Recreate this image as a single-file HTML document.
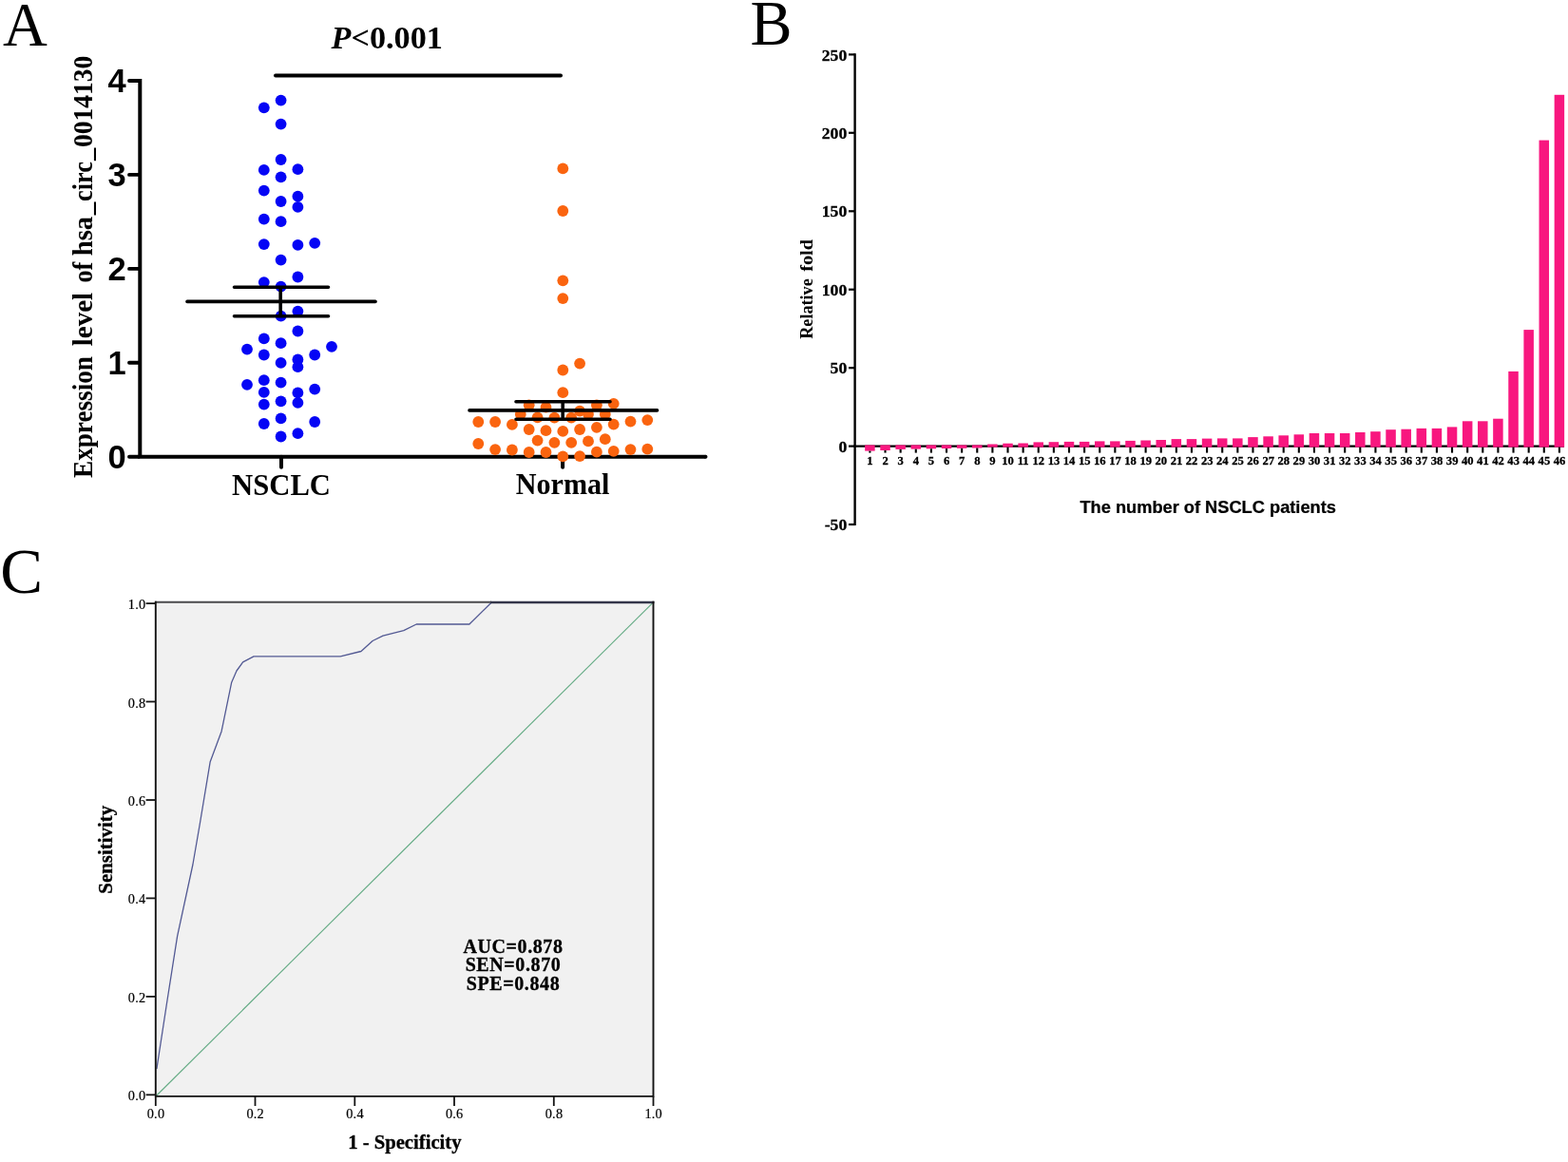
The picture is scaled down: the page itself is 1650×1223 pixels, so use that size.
<!DOCTYPE html>
<html lang="en">
<head>
<meta charset="utf-8">
<title>hsa_circ_0014130 in NSCLC</title>
<style>
html,body{margin:0;padding:0;background:#fff;}
body{width:1650px;height:1223px;overflow:hidden;position:relative;}
svg{position:absolute;left:0;top:0;display:block;}
text{font-family:"Liberation Serif","Times New Roman",serif;fill:#000;}
.sb{font-family:"Liberation Serif","Times New Roman",serif;font-weight:bold;}
.ab{font-family:"Liberation Sans",Arial,sans-serif;font-weight:bold;}
</style>
</head>
<body>
<svg width="1650" height="1223" viewBox="0 0 1650 1223">
<rect x="0" y="0" width="1650" height="1223" fill="#ffffff"/>

<g id="panelA">
<text transform="translate(3.07,48.10) scale(0.9747,1)" font-size="66.5">A</text>
<text class="sb" transform="translate(97.00,0) rotate(-90)" font-size="29"><tspan x="-502.96" textLength="127.87" lengthAdjust="spacingAndGlyphs">Expression</tspan> <tspan x="-364.27" textLength="56.46" lengthAdjust="spacingAndGlyphs">level</tspan> <tspan x="-297.60" textLength="21.84" lengthAdjust="spacingAndGlyphs">of</tspan> <tspan x="-269.31" textLength="41.45" lengthAdjust="spacingAndGlyphs">hsa</tspan><tspan x="-226.29" textLength="13.58" lengthAdjust="spacingAndGlyphs">_</tspan><tspan x="-211.89" textLength="41.84" lengthAdjust="spacingAndGlyphs">circ</tspan><tspan x="-168.99" textLength="13.28" lengthAdjust="spacingAndGlyphs">_</tspan><tspan x="-154.95" textLength="96.19" lengthAdjust="spacingAndGlyphs">0014130</tspan></text>
<path d="M147.3 82.99000000000001 V480.75 M145.3 480.75 H742.5" stroke="#000" stroke-width="4" fill="none" stroke-linecap="butt"/>
<path d="M742.5 480.75 h0.01" stroke="#000" stroke-width="4" stroke-linecap="round"/>
<path d="M136.0 480.8 H145.8" stroke="#000" stroke-width="3.9" stroke-linecap="round"/>
<text class="ab" x="132.8" y="493.1" font-size="34.5" text-anchor="end">0</text>
<path d="M136.0 381.8 H145.8" stroke="#000" stroke-width="3.9" stroke-linecap="round"/>
<text class="ab" x="132.8" y="394.1" font-size="34.5" text-anchor="end">1</text>
<path d="M136.0 282.9 H145.8" stroke="#000" stroke-width="3.9" stroke-linecap="round"/>
<text class="ab" x="132.8" y="295.2" font-size="34.5" text-anchor="end">2</text>
<path d="M136.0 183.9 H145.8" stroke="#000" stroke-width="3.9" stroke-linecap="round"/>
<text class="ab" x="132.8" y="196.2" font-size="34.5" text-anchor="end">3</text>
<path d="M136.0 85.0 H145.8" stroke="#000" stroke-width="3.9" stroke-linecap="round"/>
<text class="ab" x="132.8" y="97.3" font-size="34.5" text-anchor="end">4</text>
<path d="M296.0 480.75 V491.7" stroke="#000" stroke-width="4" stroke-linecap="round"/>
<path d="M592.1 480.75 V491.7" stroke="#000" stroke-width="4" stroke-linecap="round"/>
<text class="sb" transform="translate(244.02,520.60) scale(0.9805,1)" font-size="31.3">NSCLC</text>
<text class="sb" transform="translate(542.73,520.40) scale(0.9632,1)" font-size="31.3">Normal</text>
<path d="M290 79.4 H590" stroke="#000" stroke-width="4" stroke-linecap="round"/>
<text class="sb" x="407.2" y="50.8" font-size="34.2" text-anchor="middle"><tspan font-style="italic">P</tspan>&lt;0.001</text>
<g fill="#0505f5">
<circle cx="295.6" cy="105.6" r="5.9"/>
<circle cx="277.8" cy="113.3" r="5.9"/>
<circle cx="295.6" cy="130.6" r="5.9"/>
<circle cx="295.6" cy="168.0" r="5.9"/>
<circle cx="277.8" cy="178.9" r="5.9"/>
<circle cx="313.4" cy="178.2" r="5.9"/>
<circle cx="295.6" cy="186.3" r="5.9"/>
<circle cx="277.8" cy="200.6" r="5.9"/>
<circle cx="313.4" cy="206.7" r="5.9"/>
<circle cx="295.6" cy="212.0" r="5.9"/>
<circle cx="313.4" cy="217.9" r="5.9"/>
<circle cx="277.8" cy="230.6" r="5.9"/>
<circle cx="295.6" cy="233.2" r="5.9"/>
<circle cx="277.8" cy="257.1" r="5.9"/>
<circle cx="313.4" cy="257.9" r="5.9"/>
<circle cx="331.2" cy="255.8" r="5.9"/>
<circle cx="295.6" cy="273.6" r="5.9"/>
<circle cx="313.4" cy="291.5" r="5.9"/>
<circle cx="277.8" cy="297.1" r="5.9"/>
<circle cx="295.6" cy="301.6" r="5.9"/>
<circle cx="313.4" cy="327.6" r="5.9"/>
<circle cx="295.6" cy="332.7" r="5.9"/>
<circle cx="313.4" cy="348.5" r="5.9"/>
<circle cx="277.8" cy="356.4" r="5.9"/>
<circle cx="295.6" cy="361.2" r="5.9"/>
<circle cx="260.0" cy="367.6" r="5.9"/>
<circle cx="349.0" cy="364.8" r="5.9"/>
<circle cx="277.8" cy="373.5" r="5.9"/>
<circle cx="331.2" cy="373.5" r="5.9"/>
<circle cx="295.6" cy="381.9" r="5.9"/>
<circle cx="313.4" cy="378.5" r="5.9"/>
<circle cx="313.4" cy="386.2" r="5.9"/>
<circle cx="260.0" cy="404.8" r="5.9"/>
<circle cx="277.8" cy="400.2" r="5.9"/>
<circle cx="295.6" cy="402.7" r="5.9"/>
<circle cx="331.2" cy="409.6" r="5.9"/>
<circle cx="277.8" cy="412.9" r="5.9"/>
<circle cx="313.4" cy="413.4" r="5.9"/>
<circle cx="277.8" cy="425.6" r="5.9"/>
<circle cx="295.6" cy="422.3" r="5.9"/>
<circle cx="313.4" cy="423.9" r="5.9"/>
<circle cx="295.6" cy="440.4" r="5.9"/>
<circle cx="277.8" cy="446.0" r="5.9"/>
<circle cx="331.2" cy="444.0" r="5.9"/>
<circle cx="295.6" cy="459.5" r="5.9"/>
<circle cx="313.4" cy="456.2" r="5.9"/>
</g>
<g fill="#fa640f">
<circle cx="592.3" cy="177.4" r="5.9"/>
<circle cx="592.3" cy="222.0" r="5.9"/>
<circle cx="592.3" cy="295.3" r="5.9"/>
<circle cx="592.3" cy="314.1" r="5.9"/>
<circle cx="503.3" cy="467.0" r="5.9"/>
<circle cx="521.1" cy="473.1" r="5.9"/>
<circle cx="538.9" cy="473.5" r="5.9"/>
<circle cx="556.7" cy="476.0" r="5.9"/>
<circle cx="574.5" cy="476.0" r="5.9"/>
<circle cx="592.3" cy="480.4" r="5.9"/>
<circle cx="610.1" cy="480.1" r="5.9"/>
<circle cx="627.9" cy="475.7" r="5.9"/>
<circle cx="645.7" cy="474.8" r="5.9"/>
<circle cx="663.5" cy="473.1" r="5.9"/>
<circle cx="681.3" cy="472.7" r="5.9"/>
<circle cx="565.6" cy="463.6" r="5.9"/>
<circle cx="583.4" cy="465.8" r="5.9"/>
<circle cx="601.2" cy="465.8" r="5.9"/>
<circle cx="619.0" cy="464.4" r="5.9"/>
<circle cx="636.8" cy="462.2" r="5.9"/>
<circle cx="503.3" cy="444.0" r="5.9"/>
<circle cx="521.1" cy="444.0" r="5.9"/>
<circle cx="538.9" cy="446.9" r="5.9"/>
<circle cx="556.7" cy="452.0" r="5.9"/>
<circle cx="574.5" cy="453.2" r="5.9"/>
<circle cx="592.3" cy="453.9" r="5.9"/>
<circle cx="610.1" cy="452.0" r="5.9"/>
<circle cx="627.9" cy="449.8" r="5.9"/>
<circle cx="645.7" cy="446.6" r="5.9"/>
<circle cx="663.5" cy="443.6" r="5.9"/>
<circle cx="681.3" cy="442.1" r="5.9"/>
<circle cx="565.6" cy="439.3" r="5.9"/>
<circle cx="583.4" cy="439.6" r="5.9"/>
<circle cx="601.2" cy="439.6" r="5.9"/>
<circle cx="619.0" cy="436.0" r="5.9"/>
<circle cx="636.8" cy="436.0" r="5.9"/>
<circle cx="547.8" cy="436.0" r="5.9"/>
<circle cx="556.7" cy="426.3" r="5.9"/>
<circle cx="574.5" cy="428.7" r="5.9"/>
<circle cx="610.1" cy="432.7" r="5.9"/>
<circle cx="627.9" cy="426.3" r="5.9"/>
<circle cx="645.7" cy="424.8" r="5.9"/>
<circle cx="592.3" cy="413.2" r="5.9"/>
<circle cx="592.3" cy="389.5" r="5.9"/>
<circle cx="610.1" cy="382.6" r="5.9"/>
</g>
<g stroke="#000" stroke-width="3.6" stroke-linecap="round" fill="none">
<path d="M197 317.4 H395"/>
<path d="M246.5 302.2 H345.5 M246.5 332.7 H345.5 M295.2 302.2 V332.7"/>
<path d="M494 431.9 H691.5"/>
<path d="M543 422.8 H642 M543 441.3 H642 M592.2 422.8 V441.3"/>
</g>
</g>
<g id="panelB">
<text transform="translate(789.40,46.90) scale(0.9881,1)" font-size="66.8">B</text>
<path d="M899.6 56.3 V553.1" stroke="#000" stroke-width="2.4" fill="none"/>
<path d="M893 57.4 H899.6" stroke="#000" stroke-width="2.2"/>
<text class="sb" transform="translate(864.75,63.60) scale(1.0400,1)" font-size="17" stroke="#000" stroke-width="0.3">250</text>
<path d="M893 139.8 H899.6" stroke="#000" stroke-width="2.2"/>
<text class="sb" transform="translate(864.75,146.04) scale(1.0400,1)" font-size="17" stroke="#000" stroke-width="0.3">200</text>
<path d="M893 222.3 H899.6" stroke="#000" stroke-width="2.2"/>
<text class="sb" transform="translate(864.75,228.48) scale(1.0400,1)" font-size="17" stroke="#000" stroke-width="0.3">150</text>
<path d="M893 304.7 H899.6" stroke="#000" stroke-width="2.2"/>
<text class="sb" transform="translate(864.75,310.92) scale(1.0400,1)" font-size="17" stroke="#000" stroke-width="0.3">100</text>
<path d="M893 387.2 H899.6" stroke="#000" stroke-width="2.2"/>
<text class="sb" transform="translate(873.59,393.36) scale(1.0400,1)" font-size="17" stroke="#000" stroke-width="0.3">50</text>
<path d="M893 469.6 H899.6" stroke="#000" stroke-width="2.2"/>
<text class="sb" transform="translate(882.43,475.80) scale(1.0400,1)" font-size="17" stroke="#000" stroke-width="0.3">0</text>
<path d="M893 552.0 H899.6" stroke="#000" stroke-width="2.2"/>
<text class="sb" transform="translate(867.71,558.24) scale(1.0400,1)" font-size="17" stroke="#000" stroke-width="0.3">-50</text>
<text class="sb" transform="translate(854.70,0) rotate(-90)" font-size="19.5"><tspan x="-356.81" textLength="63.58" lengthAdjust="spacingAndGlyphs">Relative</tspan> <tspan x="-285.85" textLength="33.88" lengthAdjust="spacingAndGlyphs">fold</tspan></text>
<path d="M898.4 469.6 H1646" stroke="#000" stroke-width="2.2" fill="none"/>
<g fill="#f8177f">
<rect x="910.15" y="468.4" width="10.5" height="6.2"/>
<rect x="926.27" y="468.4" width="10.5" height="5.6"/>
<rect x="942.39" y="468.4" width="10.5" height="4.5"/>
<rect x="958.52" y="468.4" width="10.5" height="4.2"/>
<rect x="974.64" y="468.4" width="10.5" height="3.9"/>
<rect x="990.76" y="468.4" width="10.5" height="3.6"/>
<rect x="1006.88" y="468.4" width="10.5" height="3.4"/>
<rect x="1023.01" y="468.4" width="10.5" height="3.1"/>
<rect x="1039.13" y="467.5" width="10.5" height="3.2"/>
<rect x="1055.25" y="466.7" width="10.5" height="4.0"/>
<rect x="1071.37" y="466.5" width="10.5" height="4.2"/>
<rect x="1087.49" y="465.4" width="10.5" height="5.3"/>
<rect x="1103.62" y="465.2" width="10.5" height="5.5"/>
<rect x="1119.74" y="464.9" width="10.5" height="5.8"/>
<rect x="1135.86" y="464.9" width="10.5" height="5.8"/>
<rect x="1151.98" y="464.4" width="10.5" height="6.3"/>
<rect x="1168.11" y="464.4" width="10.5" height="6.3"/>
<rect x="1184.23" y="463.9" width="10.5" height="6.8"/>
<rect x="1200.35" y="463.5" width="10.5" height="7.2"/>
<rect x="1216.47" y="463.0" width="10.5" height="7.7"/>
<rect x="1232.59" y="462.1" width="10.5" height="8.6"/>
<rect x="1248.72" y="462.1" width="10.5" height="8.6"/>
<rect x="1264.84" y="461.6" width="10.5" height="9.1"/>
<rect x="1280.96" y="461.4" width="10.5" height="9.3"/>
<rect x="1297.08" y="461.4" width="10.5" height="9.3"/>
<rect x="1313.21" y="460.1" width="10.5" height="10.6"/>
<rect x="1329.33" y="459.3" width="10.5" height="11.4"/>
<rect x="1345.45" y="458.3" width="10.5" height="12.4"/>
<rect x="1361.57" y="457.3" width="10.5" height="13.4"/>
<rect x="1377.69" y="456.0" width="10.5" height="14.7"/>
<rect x="1393.82" y="456.0" width="10.5" height="14.7"/>
<rect x="1409.94" y="456.0" width="10.5" height="14.7"/>
<rect x="1426.06" y="455.0" width="10.5" height="15.7"/>
<rect x="1442.18" y="454.2" width="10.5" height="16.5"/>
<rect x="1458.31" y="452.2" width="10.5" height="18.5"/>
<rect x="1474.43" y="451.7" width="10.5" height="19.0"/>
<rect x="1490.55" y="450.9" width="10.5" height="19.8"/>
<rect x="1506.67" y="450.9" width="10.5" height="19.8"/>
<rect x="1522.79" y="449.4" width="10.5" height="21.3"/>
<rect x="1538.92" y="443.3" width="10.5" height="27.4"/>
<rect x="1555.04" y="443.3" width="10.5" height="27.4"/>
<rect x="1571.16" y="440.7" width="10.5" height="30.0"/>
<rect x="1587.28" y="390.9" width="10.5" height="79.8"/>
<rect x="1603.41" y="347.1" width="10.5" height="123.6"/>
<rect x="1619.53" y="147.6" width="10.5" height="323.1"/>
<rect x="1635.65" y="99.8" width="10.5" height="370.9"/>
</g>
<g stroke="#000" stroke-width="2.1">
<path d="M915.40 474.6 V476.6"/>
<path d="M931.52 474.0 V476.6"/>
<path d="M947.64 472.9 V476.6"/>
<path d="M963.77 472.6 V476.6"/>
<path d="M979.89 472.3 V476.6"/>
<path d="M996.01 472.0 V476.6"/>
<path d="M1012.13 471.8 V476.6"/>
<path d="M1028.26 471.5 V476.6"/>
<path d="M1044.38 470.6 V476.6"/>
<path d="M1060.50 470.6 V476.6"/>
<path d="M1076.62 470.6 V476.6"/>
<path d="M1092.74 470.6 V476.6"/>
<path d="M1108.87 470.6 V476.6"/>
<path d="M1124.99 470.6 V476.6"/>
<path d="M1141.11 470.6 V476.6"/>
<path d="M1157.23 470.6 V476.6"/>
<path d="M1173.36 470.6 V476.6"/>
<path d="M1189.48 470.6 V476.6"/>
<path d="M1205.60 470.6 V476.6"/>
<path d="M1221.72 470.6 V476.6"/>
<path d="M1237.84 470.6 V476.6"/>
<path d="M1253.97 470.6 V476.6"/>
<path d="M1270.09 470.6 V476.6"/>
<path d="M1286.21 470.6 V476.6"/>
<path d="M1302.33 470.6 V476.6"/>
<path d="M1318.46 470.6 V476.6"/>
<path d="M1334.58 470.6 V476.6"/>
<path d="M1350.70 470.6 V476.6"/>
<path d="M1366.82 470.6 V476.6"/>
<path d="M1382.94 470.6 V476.6"/>
<path d="M1399.07 470.6 V476.6"/>
<path d="M1415.19 470.6 V476.6"/>
<path d="M1431.31 470.6 V476.6"/>
<path d="M1447.43 470.6 V476.6"/>
<path d="M1463.56 470.6 V476.6"/>
<path d="M1479.68 470.6 V476.6"/>
<path d="M1495.80 470.6 V476.6"/>
<path d="M1511.92 470.6 V476.6"/>
<path d="M1528.04 470.6 V476.6"/>
<path d="M1544.17 470.6 V476.6"/>
<path d="M1560.29 470.6 V476.6"/>
<path d="M1576.41 470.6 V476.6"/>
<path d="M1592.53 470.6 V476.6"/>
<path d="M1608.66 470.6 V476.6"/>
<path d="M1624.78 470.6 V476.6"/>
<path d="M1640.90 470.6 V476.6"/>
</g>
<g font-size="12.6" text-anchor="middle" stroke="#000" stroke-width="0.3">
<text class="sb" x="915.50" y="489.2">1</text>
<text class="sb" x="931.62" y="489.2">2</text>
<text class="sb" x="947.74" y="489.2">3</text>
<text class="sb" x="963.87" y="489.2">4</text>
<text class="sb" x="979.99" y="489.2">5</text>
<text class="sb" x="996.11" y="489.2">6</text>
<text class="sb" x="1012.23" y="489.2">7</text>
<text class="sb" x="1028.36" y="489.2">8</text>
<text class="sb" x="1044.48" y="489.2">9</text>
<text class="sb" x="1060.60" y="489.2">10</text>
<text class="sb" x="1076.72" y="489.2">11</text>
<text class="sb" x="1092.84" y="489.2">12</text>
<text class="sb" x="1108.97" y="489.2">13</text>
<text class="sb" x="1125.09" y="489.2">14</text>
<text class="sb" x="1141.21" y="489.2">15</text>
<text class="sb" x="1157.33" y="489.2">16</text>
<text class="sb" x="1173.46" y="489.2">17</text>
<text class="sb" x="1189.58" y="489.2">18</text>
<text class="sb" x="1205.70" y="489.2">19</text>
<text class="sb" x="1221.82" y="489.2">20</text>
<text class="sb" x="1237.94" y="489.2">21</text>
<text class="sb" x="1254.07" y="489.2">22</text>
<text class="sb" x="1270.19" y="489.2">23</text>
<text class="sb" x="1286.31" y="489.2">24</text>
<text class="sb" x="1302.43" y="489.2">25</text>
<text class="sb" x="1318.56" y="489.2">26</text>
<text class="sb" x="1334.68" y="489.2">27</text>
<text class="sb" x="1350.80" y="489.2">28</text>
<text class="sb" x="1366.92" y="489.2">29</text>
<text class="sb" x="1383.04" y="489.2">30</text>
<text class="sb" x="1399.17" y="489.2">31</text>
<text class="sb" x="1415.29" y="489.2">32</text>
<text class="sb" x="1431.41" y="489.2">33</text>
<text class="sb" x="1447.53" y="489.2">34</text>
<text class="sb" x="1463.66" y="489.2">35</text>
<text class="sb" x="1479.78" y="489.2">36</text>
<text class="sb" x="1495.90" y="489.2">37</text>
<text class="sb" x="1512.02" y="489.2">38</text>
<text class="sb" x="1528.14" y="489.2">39</text>
<text class="sb" x="1544.27" y="489.2">40</text>
<text class="sb" x="1560.39" y="489.2">41</text>
<text class="sb" x="1576.51" y="489.2">42</text>
<text class="sb" x="1592.63" y="489.2">43</text>
<text class="sb" x="1608.76" y="489.2">44</text>
<text class="sb" x="1624.88" y="489.2">45</text>
<text class="sb" x="1641.00" y="489.2">46</text>
</g>
<text class="ab" transform="translate(1136.40,539.70) scale(1.0251,1)" font-size="17.8" stroke="#000" stroke-width="0.25">The number of NSCLC patients</text>
</g>
<g id="panelC">
<text transform="translate(0.35,624.40) scale(1.0015,1)" font-size="67">C</text>
<rect x="163.8" y="633.8" width="523.7" height="520.1" fill="#f1f1f1"/>
<path d="M164.8 1153.0 L686.5 634.8" stroke="#62aa83" stroke-width="1.1" fill="none"/>
<path d="M164.9 1125.0 L175.5 1056 L186.6 985.3 L202.9 910 L210.5 866 L221.2 801.7 L233.1 769.7 L243.7 718.2 L249 706 L255.6 696.9 L267.0 690.9 L358.2 690.9 L380 685.5 L392.1 674.5 L403 669.1 L424.8 663.6 L438.2 657 L493.9 657 L517 634.2 L686.5 634.2" stroke="#525993" stroke-width="1.3" fill="none" stroke-linejoin="round"/>
<path d="M162.85000000000002 633.8 H517" stroke="#4a4a4c" stroke-width="2.1" fill="none"/>
<path d="M516 634.05 H688.45" stroke="#34364a" stroke-width="2.5999999999999996" fill="none"/>
<path d="M163.8 632.8499999999999 V1153.9 H687.5 V632.8499999999999" stroke="#131313" stroke-width="1.9" fill="none" stroke-linejoin="miter"/>
<g stroke="#151515" stroke-width="1.8">
<path d="M153.6 1152.3 H163.8"/>
<path d="M163.8 1153.9 V1164"/>
<path d="M153.6 1048.9 H163.8"/>
<path d="M268.5 1153.9 V1164"/>
<path d="M153.6 945.4 H163.8"/>
<path d="M373.3 1153.9 V1164"/>
<path d="M153.6 842.0 H163.8"/>
<path d="M478.0 1153.9 V1164"/>
<path d="M153.6 738.5 H163.8"/>
<path d="M582.8 1153.9 V1164"/>
<path d="M153.6 635.1 H163.8"/>
<path d="M687.5 1153.9 V1164"/>
</g>
<g font-size="14.3" letter-spacing="0.25" stroke="#000" stroke-width="0.2">
<text x="153.4" y="1158.3" text-anchor="end">0.0</text>
<text x="164.0" y="1177.3" text-anchor="middle">0.0</text>
<text x="153.4" y="1054.9" text-anchor="end">0.2</text>
<text x="268.7" y="1177.3" text-anchor="middle">0.2</text>
<text x="153.4" y="951.4" text-anchor="end">0.4</text>
<text x="373.5" y="1177.3" text-anchor="middle">0.4</text>
<text x="153.4" y="848.0" text-anchor="end">0.6</text>
<text x="478.2" y="1177.3" text-anchor="middle">0.6</text>
<text x="153.4" y="744.5" text-anchor="end">0.8</text>
<text x="583.0" y="1177.3" text-anchor="middle">0.8</text>
<text x="153.4" y="641.1" text-anchor="end">1.0</text>
<text x="687.7" y="1177.3" text-anchor="middle">1.0</text>
</g>
<text class="sb" transform="translate(118.20,940.71) rotate(-90) scale(1.0186,1)" font-size="20.5" stroke="#000" stroke-width="0.3">Sensitivity</text>
<text class="sb" transform="translate(366.14,1208.50) scale(1.0187,1)" font-size="20.3" stroke="#000" stroke-width="0.3">1 - Specificity</text>
<g class="sb" font-size="20" text-anchor="middle" letter-spacing="0.6" stroke="#000" stroke-width="0.3">
<text class="sb" x="540" y="1002.5">AUC=0.878</text>
<text class="sb" x="540" y="1022.4">SEN=0.870</text>
<text class="sb" x="540" y="1042">SPE=0.848</text>
</g>
</g>
</svg>
</body>
</html>
